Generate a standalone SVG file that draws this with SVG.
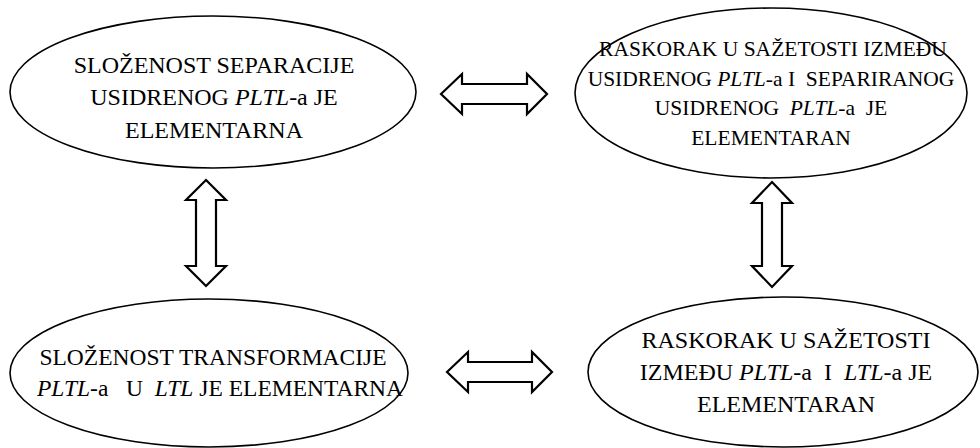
<svg xmlns="http://www.w3.org/2000/svg" width="980" height="448" viewBox="0 0 980 448">
<style>
.node ellipse{fill:#fff;stroke:#000;stroke-width:1.6}
.node text{fill:#000;text-anchor:middle}
.i{font-style:italic}
.arr{fill:#fff;stroke:#000;stroke-width:2.2;stroke-linejoin:miter}
</style>
<rect width="980" height="448" fill="#fff"/>
<g id="connectors">
<polygon class="arr" points="441,94 462,74 462,84 527,84 527,74 547,94 527,114 527,104 462,104 462,114"/>
<polygon class="arr" points="447,372 468,352 468,362 532,362 532,352 552,372 532,392 532,382 468,382 468,392"/>
<polygon class="arr" points="206,180 226,200 216,200 216,266 226,266 206,286 186,266 196,266 196,200 186,200"/>
<polygon class="arr" points="772,182 792,203 782,203 782,266 792,266 772,287 752,266 762,266 762,203 752,203"/>
</g>
<g font-family="Liberation Serif" >
<g id="n1" class="node" font-size="24">
<ellipse cx="213" cy="92" rx="203" ry="76"/>
<text x="214" y="73">SLOŽENOST SEPARACIJE</text>
<text x="214" y="105">USIDRENOG <tspan class="i">PLTL</tspan>-a JE</text>
<text x="214" y="138">ELEMENTARNA</text>
</g>
<g id="n2" class="node" font-size="21.5">
<ellipse cx="771" cy="93" rx="196" ry="85"/>
<text x="773" y="56">RASKORAK U SAŽETOSTI IZMEĐU</text>
<text x="771" y="86" xml:space="preserve">USIDRENOG <tspan class="i">PLTL</tspan>-a I  SEPARIRANOG</text>
<text x="771" y="115" xml:space="preserve">USIDRENOG  <tspan class="i">PLTL</tspan>-a  JE</text>
<text x="771" y="145">ELEMENTARAN</text>
</g>
<g id="n3" class="node" font-size="23.5">
<ellipse cx="209" cy="373" rx="199" ry="74"/>
<text x="213" y="365">SLOŽENOST TRANSFORMACIJE</text>
<text x="220" y="396" xml:space="preserve"><tspan class="i">PLTL</tspan>-a   U  <tspan class="i">LTL</tspan> JE ELEMENTARNA</text>
</g>
<g id="n4" class="node" font-size="24">
<ellipse cx="783" cy="372" rx="195" ry="75"/>
<text x="786" y="348">RASKORAK U SAŽETOSTI</text>
<text x="786" y="380" xml:space="preserve">IZMEĐU <tspan class="i">PLTL</tspan>-a  I  <tspan class="i">LTL</tspan>-a JE</text>
<text x="786" y="412">ELEMENTARAN</text>
</g>
</g>
</svg>
